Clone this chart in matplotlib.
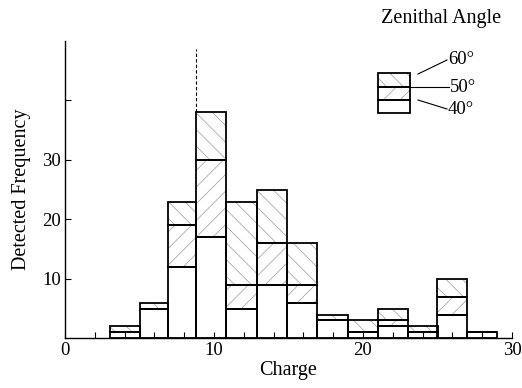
import matplotlib
matplotlib.use("Agg")
import matplotlib.pyplot as plt
import numpy as np
from matplotlib.patches import Rectangle
from matplotlib.lines import Line2D

plt.rcParams['font.family'] = ['Liberation Serif', 'DejaVu Serif']
plt.rcParams['hatch.linewidth'] = 0.5

# Data
bin_edges = [3, 5, 6.9, 8.8, 10.8, 12.9, 14.9, 16.9, 19, 21, 23, 25, 27, 29]
level_40 = [1, 5, 12, 17, 5, 9, 6, 3, 1, 2, 1, 4, 1]
level_50 = [1, 5, 19, 30, 9, 16, 9, 3, 1, 3, 1, 7, 1]
level_60 = [2, 6, 23, 38, 23, 25, 16, 4, 3, 5, 2, 10, 1]
marker_x = 8.8
marker_top = 48.6
x_ticks = [0, 10, 20, 30]
y_ticks = [10, 20, 30, 40]
y_ticklabels = ['10', '20', '30', '']
legend_labels = ['60°', '50°', '40°']

W, H = 522, 388
fig = plt.figure(figsize=(W / 100, H / 100), dpi=100)

def fx(x):
    return x / W

def fy(y):
    return 1 - y / H

ax = fig.add_axes([fx(65), fy(338.3), fx(512) - fx(65), fy(41) - fy(338.3)])

left = np.array(bin_edges[:-1])
width = np.diff(bin_edges)
l40 = np.array(level_40)
l50 = np.array(level_50)
l60 = np.array(level_60)

hcol = '#9a9a9a'
# hatched segments
ax.bar(left, l50 - l40, width=width, bottom=l40, align='edge', color='none',
       edgecolor=hcol, linewidth=0, hatch='//')
ax.bar(left, l60 - l50, width=width, bottom=l50, align='edge', color='none',
       edgecolor=hcol, linewidth=0, hatch='\\\\')
# outlines
ax.bar(left, l40, width=width, bottom=0, align='edge', fill=False,
       edgecolor='black', linewidth=1.3)
ax.bar(left, l50 - l40, width=width, bottom=l40, align='edge', fill=False,
       edgecolor='black', linewidth=1.3)
ax.bar(left, l60 - l50, width=width, bottom=l50, align='edge', fill=False,
       edgecolor='black', linewidth=1.3)

ax.plot([marker_x, marker_x], [level_60[3], marker_top], linestyle=(0, (3, 2)),
        color='black', linewidth=0.8)

ax.set_xlim(0, 30)
ax.set_ylim(0, 50)
for s in ['top', 'right']:
    ax.spines[s].set_visible(False)
for s in ['left', 'bottom']:
    ax.spines[s].set_linewidth(1.0)
ax.set_xticks(x_ticks)
ax.set_xticks(np.arange(0, 31, 2), minor=True)
ax.set_yticks(y_ticks)
ax.set_yticklabels(y_ticklabels)
ax.tick_params(axis='both', which='both', direction='in', length=4, width=0.8,
               labelsize=13.5, pad=3)
ax.set_xlabel('Charge', fontsize=14.5, labelpad=1)
ax.set_ylabel('Detected Frequency', fontsize=14.5, labelpad=8)

# Title for the legend
fig.text(fx(441), fy(18), 'Zenithal Angle', fontsize=14.5, ha='center', va='center')

# Legend box
bx0, bx1 = 378, 410
ys = [73, 87, 100, 113]
hatches = ['\\\\', '//', None]
for i in range(3):
    y0, y1 = ys[i], ys[i + 1]
    if hatches[i]:
        fig.patches.append(Rectangle((fx(bx0), fy(y1)), fx(bx1) - fx(bx0), fy(y0) - fy(y1),
                                     transform=fig.transFigure, fill=False, edgecolor=hcol,
                                     linewidth=0, hatch=hatches[i]))
    fig.patches.append(Rectangle((fx(bx0), fy(y1)), fx(bx1) - fx(bx0), fy(y0) - fy(y1),
                                 transform=fig.transFigure, fill=False, edgecolor='black',
                                 linewidth=1.3))
leaders = [((418, 74), (447, 60)), ((410, 87), (449, 87)), ((418, 100), (447, 109))]
for (p0, p1), lab in zip(leaders, legend_labels):
    fig.lines.append(Line2D([fx(p0[0]), fx(p1[0])], [fy(p0[1]), fy(p1[1])],
                            transform=fig.transFigure, color='black', linewidth=0.8))
    fig.text(fx(p1[0] + 1), fy(p1[1]), lab, fontsize=13.5, ha='left', va='center')

fig.savefig('out.png', dpi=100)
